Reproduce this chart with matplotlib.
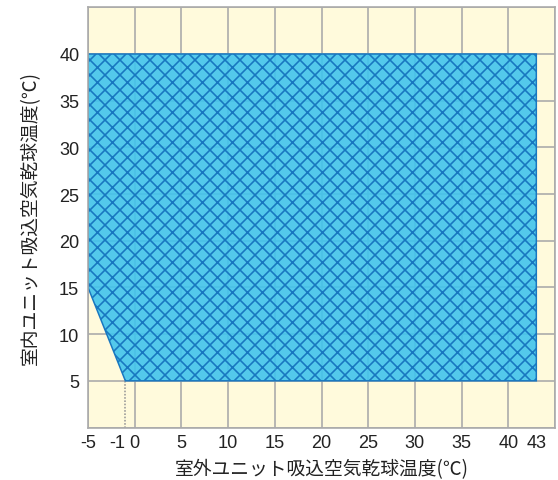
import matplotlib
matplotlib.use('Agg')
import matplotlib.pyplot as plt
import numpy as np

# operating range polygon (outdoor temp, indoor temp)
outdoor = [-5, -1, 43, 43, -5]
indoor = [15, 5, 5, 40, 40]

x_ticks = [-5, -1, 0, 5, 10, 15, 20, 25, 30, 35, 40, 43]
x_ticklabels = ['-5', '-1', '0', '5', '10', '15', '20', '25', '30', '35', '40', '43']
y_ticks = [5, 10, 15, 20, 25, 30, 35, 40]
grid_x = np.arange(-5, 46, 5)
grid_y = np.arange(0, 46, 5)

DPI = 90
plt.rcParams['hatch.linewidth'] = 1.3
fig = plt.figure(figsize=(558 / DPI, 481 / DPI), dpi=DPI)
ax = fig.add_axes([88 / 558, 1 - 428.5 / 481, (555 - 88) / 558, (428.5 - 8.3) / 481])

ax.set_facecolor('#fffadc')
ax.set_xlim(-5, 45)
ax.set_ylim(0, 45)

# grid
for gx in grid_x:
    ax.axvline(gx, color='#aaaaaa', linewidth=1.3, zorder=0.5)
for gy in grid_y:
    ax.axhline(gy, color='#aaaaaa', linewidth=1.3, zorder=0.5)

ax.fill(outdoor, indoor, facecolor=(0.25, 0.77, 0.93, 0.9), edgecolor='#1877c0',
        hatch='xx', linewidth=1.2, zorder=2)
ax.plot([-1, -1], [0, 5], color='#999999', linestyle=(0, (1, 1)), linewidth=1.3, zorder=1)

ax.set_xticks(x_ticks)
ax.set_xticklabels(x_ticklabels)
ax.set_yticks(y_ticks)
ax.tick_params(axis='y', which='both', length=0, labelsize=14.5, pad=7)
ax.tick_params(axis='x', which='both', length=0, labelsize=14.5, pad=5)
for lab in ax.get_xticklabels() + ax.get_yticklabels():
    lab.set_family('Liberation Sans')
    lab.set_color('#222222')
ax.get_xticklabels()[1].set_horizontalalignment('right')

for s in ax.spines.values():
    s.set_color('#aaaaaa')
    s.set_linewidth(1.3)

ax.set_xlabel('室外ユニット吸込空気乾球温度(℃)', family=['Noto Sans CJK JP', 'DejaVu Sans'],
              fontsize=15, color='#222222', labelpad=6)
ax.set_ylabel('室内ユニット吸込空気乾球温度(℃)', family=['Noto Sans CJK JP', 'DejaVu Sans'],
              fontsize=15, color='#222222', labelpad=14)

fig.savefig('out.png', dpi=DPI)
